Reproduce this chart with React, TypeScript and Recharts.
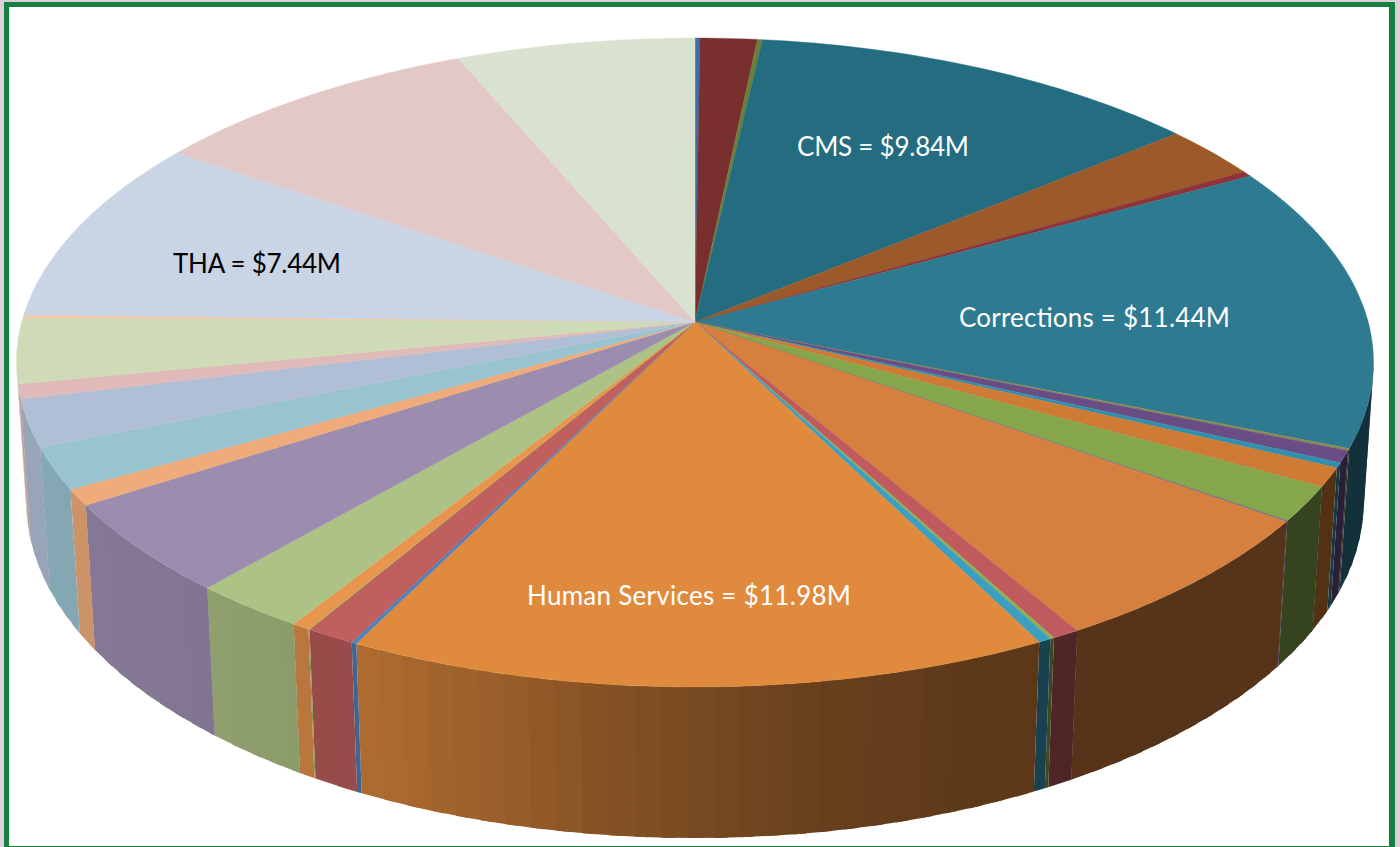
import { PieChart, Pie } from 'recharts';

// slices run clockwise from 12 o'clock, values in $M
const sliceValues = [
  0.11, 1.23, 0.11, 9.84, 2.13, 0.22, 11.44, 0.09, 0.47, 0.2, 0.76, 1.41, 0.03,
  5.4, 0.47, 0.07, 0.22, 11.98, 0.09, 0.85, 0.02, 0.31, 1.97, 3.71, 0.65, 1.68,
  1.88, 0.58, 2.62, 0.11, 7.44, 7.24, 5.16,
];

const sliceColors = [
  '#3c6ea8', '#7a2f2f', '#6c7f3a', '#246c80', '#9c5a2a', '#8f3338', '#2e7b91',
  '#8a8a50', '#6b4d85', '#3090ae', '#cf7a35', '#86a64c', '#6060a0', '#d5803e',
  '#c15a5e', '#90b050', '#3c9fc0', '#e08a3e', '#4f81bd', '#c0605e', '#9bbb59',
  '#e8954e', '#adc285', '#9c8db0', '#efab7a', '#9ac3d0', '#b0bfd5', '#e0b9b9',
  '#cfdab6', '#f6c9a6', '#c9d4e5', '#e3c8c8', '#d8e2cf',
];

const sliceLabels: Record<number, string> = {
  3: 'CMS = $9.84M',
  6: 'Corrections = $11.44M',
  17: 'Human Services = $11.98M',
  30: 'THA = $7.44M',
};

const chartData = sliceValues.map((value, i) => ({
  value,
  fill: sliceColors[i],
}));

// camera used to fake the 3D pie
const CX = 695;
const CY = 322;
const RX = 673.2;
const RY = 319.4;
const DEPTH_K = 0.1248;
const WALL_M = 0.01423;
const WALL_C = 139.6;

const project = (deg: number, h: number) => {
  const a = (deg * Math.PI) / 180;
  const u = Math.cos(a);
  const v = -Math.sin(a);
  const d = 1 - DEPTH_K * v + WALL_M * h;
  return {
    x: CX + (RX * u) / d,
    y: CY + (RY * v + WALL_C * h) / d,
  };
};

const shadeStops = [
  [0, 0.87], [200, 0.83], [360, 0.78], [500, 0.68], [600, 0.6],
  [800, 0.47], [1000, 0.41], [1400, 0.4],
];

const shadeAt = (x: number) => {
  for (let i = 1; i < shadeStops.length; i++) {
    const [x0, s0] = shadeStops[i - 1];
    const [x1, s1] = shadeStops[i];
    if (x <= x1) return s0 + ((s1 - s0) * (x - x0)) / (x1 - x0);
  }
  return 0.4;
};

const darken = (hex: string, f: number) => {
  const n = parseInt(hex.slice(1), 16);
  const r = Math.round(((n >> 16) & 255) * f);
  const g = Math.round(((n >> 8) & 255) * f);
  const b = Math.round((n & 255) * f);
  return `rgb(${r},${g},${b})`;
};

const angleSteps = (props: any, step: number) => {
  const lo = Math.min(props.startAngle, props.endAngle);
  const hi = Math.max(props.startAngle, props.endAngle);
  const out = [lo];
  for (let a = lo + step; a < hi; a += step) out.push(a);
  out.push(hi);
  return out;
};

const TopFace = (props: any) => {
  const pts = angleSteps(props, 1).map((a) => project(a, 0));
  const d =
    `M${CX},${CY} ` + pts.map((p) => `L${p.x.toFixed(1)},${p.y.toFixed(1)}`).join(' ') + ' Z';
  return <path d={d} fill={props.fill} stroke={props.fill} strokeWidth={0.4} />;
};

const WallFace = (props: any) => {
  const angles = angleSteps(props, 2);
  const hi = angles[angles.length - 1];
  const quads = [];
  for (let i = 1; i < angles.length; i++) {
    const p1 = project(angles[i - 1], 0);
    const p2 = project(angles[i], 0);
    const q1 = project(angles[i - 1], 1);
    const cross = (p2.x - p1.x) * (q1.y - p1.y) - (p2.y - p1.y) * (q1.x - p1.x);
    if (cross <= 0) continue;
    // each band runs on a little under the next one so no seam shows
    const end = Math.min(angles[i] + 1, hi);
    const p3 = project(end, 0);
    const q3 = project(end, 1);
    const col = darken(props.fill, shadeAt((p1.x + p2.x) / 2));
    quads.push(
      <path
        key={i}
        d={`M${p1.x},${p1.y} L${p2.x},${p2.y} L${p3.x},${p3.y} L${q3.x},${q3.y} L${q1.x},${q1.y} Z`}
        fill={col}
      />
    );
  }
  return <g>{quads}</g>;
};

const labelSpots: Record<number, { x: number; y: number; width: number; color: string }> = {
  3: { x: 883, y: 146, width: 172, color: '#ffffff' },
  6: { x: 1094.5, y: 317, width: 271, color: '#ffffff' },
  17: { x: 689, y: 595, width: 324, color: '#ffffff' },
  30: { x: 257, y: 263, width: 168, color: '#000000' },
};

const SliceLabel = ({ index }: any) => {
  const spot = labelSpots[index];
  if (!spot) return null;
  return (
    <text
      x={spot.x}
      y={spot.y}
      textAnchor="middle"
      dominantBaseline="central"
      fill={spot.color}
      fontFamily="Lato, sans-serif"
      fontSize={26}
      textLength={spot.width}
    >
      {sliceLabels[index]}
    </text>
  );
};

const App = () => {
  return (
    <div
      style={{
        position: 'fixed',
        left: 0,
        top: 0,
        width: 1400,
        height: 847,
        background: '#ddd0dc',
        overflow: 'hidden',
      }}
    >
      <div
        style={{
          position: 'absolute',
          left: 4,
          top: 2,
          width: 1391,
          height: 845,
          boxSizing: 'border-box',
          background: '#ffffff',
          borderStyle: 'solid',
          borderColor: '#15803f',
          borderWidth: '5px 6px 1px 5px',
        }}
      />
      <div style={{ position: 'absolute', left: 0, top: 0 }}>
        <PieChart width={1400} height={847} margin={{ top: 0, right: 0, bottom: 0, left: 0 }}>
          <Pie
            dataKey="value"
            data={chartData}
            cx={CX}
            cy={CY}
            outerRadius={RX}
            startAngle={90}
            endAngle={-270}
            stroke="none"
            isAnimationActive={false}
            shape={WallFace}
          />
          <Pie
            dataKey="value"
            data={chartData}
            cx={CX}
            cy={CY}
            outerRadius={RX}
            startAngle={90}
            endAngle={-270}
            stroke="none"
            isAnimationActive={false}
            shape={TopFace}
            labelLine={false}
            label={SliceLabel}
          />
        </PieChart>
      </div>
    </div>
  );
};

export default App;
